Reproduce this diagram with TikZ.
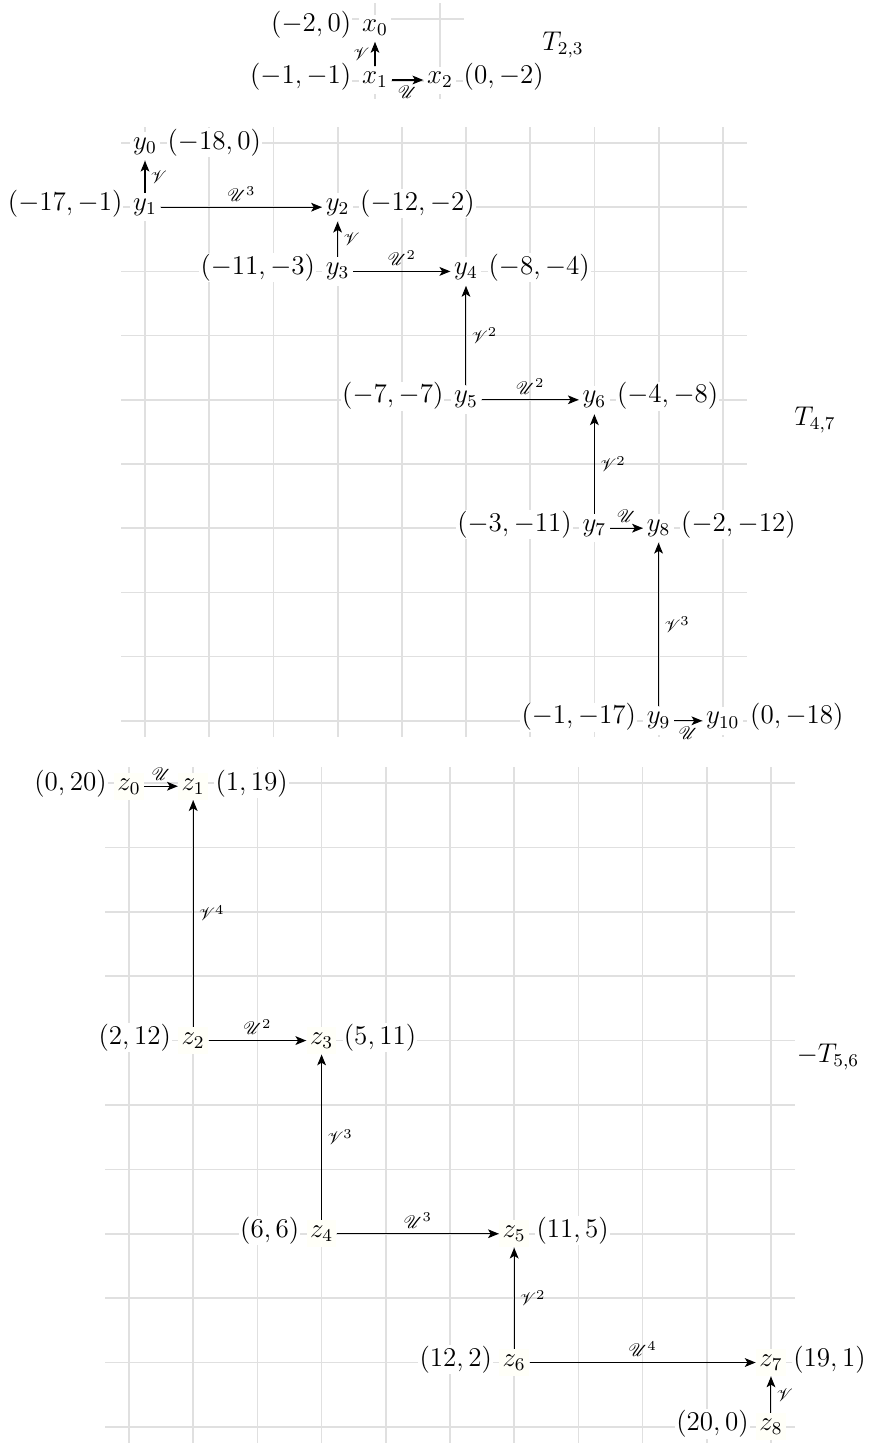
\documentclass[tikz,border=0pt]{standalone}
\usepackage{amsmath}
\usepackage{mathrsfs}
\usetikzlibrary{arrows.meta,positioning}
\definecolor{cream}{RGB}{255,255,248}
\begin{document}
\begin{tikzpicture}[x=0.4432pt,y=-0.4432pt,
  every node/.style={font=\fontsize{12}{14.4}\selectfont},
  gridl/.style={draw=black!12, line width=0.75pt},
  mn/.style={fill=white, inner xsep=1.5pt, inner ysep=2.5pt},
  zn/.style={mn, fill=cream},
  lab/.style={fill=white, inner sep=0.5pt},
  ar/.style={-{Stealth[length=4.8pt,width=3.9pt,inset=1.2pt]}, line width=0.45pt},
  al/.style={inner sep=2.3pt},
  tl/.style={inner sep=0pt},
]
\useasboundingbox (0,0) rectangle (881,1443);

% ---------- top diagram ----------
\foreach \x in {375,440} \draw[gridl] (\x,3) -- (\x,99);
\foreach \y in {19,81} \draw[gridl] (351,\y) -- (464,\y);
\node[mn] (x0) at (375,28) {$x_0$};
\node[mn] (x1) at (375,80) {$x_1$};
\node[mn] (x2) at (440,80) {$x_2$};
\node[lab, base left=2.4pt of x0] (lx0) {$(-2,0)$};
\node[lab, base left=2.4pt of x1] (lx1) {$(-1,-1)$};
\node[lab, base right=2.4pt of x2] (lx2) {$(0,-2)$};
\draw[ar] (x1) -- node[al, left] {$\scriptstyle\mathscr{V}$} (x0);
\draw[ar] (x1) -- node[al, below] {$\scriptstyle\mathscr{U}$} (x2);
\node[tl] (T23) at (563,45) {$T_{2,3}$};

% ---------- middle diagram ----------
\foreach \k in {0,...,9} {
  \draw[gridl] ({145+64.22*\k},127) -- ({145+64.22*\k},737);
  \draw[gridl] (121,{143+64.2*\k}) -- (747,{143+64.2*\k});
}
\begin{scope}[shift={(145,143)}, x=1cm, y=-1cm]
  \node[mn] (y0) at (0,0.05) {$y_0$};
  \node[mn] (y1) at (0,1) {$y_1$};
  \node[mn] (y2) at (3,1) {$y_2$};
  \node[mn] (y3) at (3,2) {$y_3$};
  \node[mn] (y4) at (5,2) {$y_4$};
  \node[mn] (y5) at (5,4) {$y_5$};
  \node[mn] (y6) at (7,4) {$y_6$};
  \node[mn] (y7) at (7,6) {$y_7$};
  \node[mn] (y8) at (8,6) {$y_8$};
  \node[mn] (y9) at (8,9) {$y_9$};
  \node[mn] (y10) at (9,9) {$y_{10}$};
  \node[lab, base right=2.4pt of y0] (ly0) {$(-18,0)$};
  \node[lab, base left=2.4pt of y1] (ly1) {$(-17,-1)$};
  \node[lab, base right=2.4pt of y2] (ly2) {$(-12,-2)$};
  \node[lab, base left=2.4pt of y3] (ly3) {$(-11,-3)$};
  \node[lab, base right=2.4pt of y4] (ly4) {$(-8,-4)$};
  \node[lab, base left=2.4pt of y5] (ly5) {$(-7,-7)$};
  \node[lab, base right=2.4pt of y6] (ly6) {$(-4,-8)$};
  \node[lab, base left=2.4pt of y7] (ly7) {$(-3,-11)$};
  \node[lab, base right=2.4pt of y8] (ly8) {$(-2,-12)$};
  \node[lab, base left=2.4pt of y9] (ly9) {$(-1,-17)$};
  \node[lab, base right=2.4pt of y10] (ly10) {$(0,-18)$};
  \draw[ar] (y1) -- node[al, right] {$\scriptstyle\mathscr{V}$} (y0);
  \draw[ar] (y1) -- node[al, above] {$\scriptstyle\mathscr{U}^3$} (y2);
  \draw[ar] (y3) -- node[al, right] {$\scriptstyle\mathscr{V}$} (y2);
  \draw[ar] (y3) -- node[al, above] {$\scriptstyle\mathscr{U}^2$} (y4);
  \draw[ar] (y5) -- node[al, right] {$\scriptstyle\mathscr{V}^2$} (y4);
  \draw[ar] (y5) -- node[al, above] {$\scriptstyle\mathscr{U}^2$} (y6);
  \draw[ar] (y7) -- node[al, right] {$\scriptstyle\mathscr{V}^2$} (y6);
  \draw[ar] (y7) -- node[al, above] {$\scriptstyle\mathscr{U}$} (y8);
  \draw[ar] (y9) -- node[al, right] {$\scriptstyle\mathscr{V}^3$} (y8);
  \draw[ar] (y9) -- node[al, below] {$\scriptstyle\mathscr{U}$} (y10);
\end{scope}
\node[tl] (T47) at (815,420) {$T_{4,7}$};

% ---------- bottom diagram ----------
\foreach \k in {0,...,10} {
  \draw[gridl] ({129+64.2*\k},767) -- ({129+64.2*\k},1443);
  \draw[gridl] (105,{783+64.4*\k}) -- (795,{783+64.4*\k});
}
\begin{scope}[shift={(129,783)}, x=1cm, y=-1.003cm]
  \node[zn] (z0) at (0,0.05) {$z_0$};
  \node[zn] (z1) at (1,0.05) {$z_1$};
  \node[zn] (z2) at (1,4) {$z_2$};
  \node[zn] (z3) at (3,4) {$z_3$};
  \node[zn] (z4) at (3,7) {$z_4$};
  \node[zn] (z5) at (6,7) {$z_5$};
  \node[zn] (z6) at (6,9) {$z_6$};
  \node[zn] (z7) at (10,9) {$z_7$};
  \node[zn] (z8) at (10,10) {$z_8$};
  \node[lab, base left=2.4pt of z0] (lz0) {$(0,20)$};
  \node[lab, base right=2.4pt of z1] (lz1) {$(1,19)$};
  \node[lab, base left=2.4pt of z2] (lz2) {$(2,12)$};
  \node[lab, base right=2.4pt of z3] (lz3) {$(5,11)$};
  \node[lab, base left=2.4pt of z4] (lz4) {$(6,6)$};
  \node[lab, base right=2.4pt of z5] (lz5) {$(11,5)$};
  \node[lab, base left=2.4pt of z6] (lz6) {$(12,2)$};
  \node[lab, base right=2.4pt of z7] (lz7) {$(19,1)$};
  \node[lab, base left=2.4pt of z8] (lz8) {$(20,0)$};
  \draw[ar] (z0) -- node[al, above] {$\scriptstyle\mathscr{U}$} (z1);
  \draw[ar] (z2) -- node[al, right] {$\scriptstyle\mathscr{V}^4$} (z1);
  \draw[ar] (z2) -- node[al, above] {$\scriptstyle\mathscr{U}^2$} (z3);
  \draw[ar] (z4) -- node[al, right] {$\scriptstyle\mathscr{V}^3$} (z3);
  \draw[ar] (z4) -- node[al, above] {$\scriptstyle\mathscr{U}^3$} (z5);
  \draw[ar] (z6) -- node[al, right] {$\scriptstyle\mathscr{V}^2$} (z5);
  \draw[ar] (z6) -- node[al, above] {$\scriptstyle\mathscr{U}^4$} (z7);
  \draw[ar] (z8) -- node[al, right] {$\scriptstyle\mathscr{V}$} (z7);
\end{scope}
\node[tl] (T56) at (828,1057) {$-T_{5,6}$};
\end{tikzpicture}
\end{document}
